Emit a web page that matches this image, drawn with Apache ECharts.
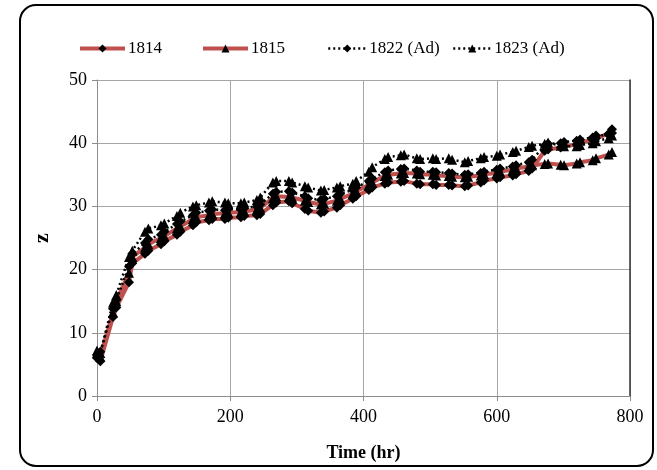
<!DOCTYPE html>
<html>
<head>
<meta charset="utf-8">
<script src="https://cdn.jsdelivr.net/npm/echarts@6/dist/echarts.min.js"></script>
<style>
html,body{margin:0;padding:0;background:#fff;}
#chart{width:657px;height:470px;}
</style>
</head>
<body>
<div id="chart"></div>
<script>
// Times of readings (hr): two readings per day
const times = [0,5,24,29,48,53,72,77,96,101,120,125,144,149,168,173,192,197,216,221,240,245,264,269,288,293,312,317,336,341,360,365,384,389,408,413,432,437,456,461,480,485,504,509,528,533,552,557,576,581,600,605,624,629,648,653,672,677,696,701,720,725,744,749,768,773];

const s1814 = [6.0,5.5, 12.5,14.0, 18.0,21.0, 22.5,23.0, 24.0,24.5, 25.5,26.0, 27.0,27.5, 27.8,28.0, 28.0,28.2, 28.3,28.5, 28.6,28.8, 30.2,30.6, 30.8,30.5, 29.6,29.3, 29.0,29.2, 29.8,30.2, 31.2,31.6, 32.6,33.0, 33.6,33.8, 33.9,34.0, 33.6,33.5, 33.5,33.4, 33.4,33.3, 33.2,33.3, 33.8,34.1, 34.4,34.6, 34.9,35.1, 35.6,36.0, 38.8,39.0, 39.3,39.5, 39.8,40.1, 40.5,40.8, 41.5,42.2];

const s1815 = [6.8,6.2, 13.2,15.0, 19.5,22.0, 23.5,24.0, 25.0,25.3, 26.5,26.8, 28.0,28.3, 28.6,28.8, 28.9,29.0, 29.1,29.2, 29.5,29.8, 31.3,31.6, 31.5,31.4, 30.9,30.7, 30.3,30.4, 30.9,31.2, 32.0,32.4, 33.4,33.8, 34.8,35.0, 35.2,35.3, 35.2,35.1, 35.0,34.9, 34.8,34.7, 34.6,34.7, 34.9,35.1, 35.3,35.5, 35.8,36.0, 36.3,36.5, 36.7,36.8, 36.6,36.5, 36.8,37.0, 37.3,37.6, 38.2,38.6];

const s1822 = [6.5,7.0, 13.8,15.2, 20.5,22.5, 24.2,24.8, 25.5,26.0, 27.2,27.6, 28.6,29.0, 29.3,29.5, 29.4,29.6, 29.5,29.7, 30.0,30.3, 32.0,32.3, 32.4,32.2, 31.6,31.3, 31.0,31.2, 31.6,32.0, 32.6,33.0, 34.0,34.4, 35.4,35.7, 35.9,36.0, 35.7,35.5, 35.5,35.4, 35.3,35.2, 35.0,35.1, 35.3,35.5, 35.8,36.0, 36.3,36.5, 37.0,37.4, 39.6,39.9, 40.0,40.2, 40.4,40.6, 40.9,41.2, 41.3,41.6];

const s1823 = [7.2,6.8, 14.8,16.0, 22.0,23.0, 26.0,26.5, 27.0,27.3, 28.5,29.0, 30.0,30.2, 30.6,30.8, 30.6,30.5, 30.5,30.6, 31.0,31.4, 33.8,34.0, 34.0,33.8, 33.2,33.0, 32.5,32.6, 33.0,33.2, 33.6,34.0, 35.5,36.2, 37.5,37.8, 38.1,38.2, 37.6,37.5, 37.6,37.5, 37.6,37.4, 37.0,37.2, 37.6,37.8, 38.0,38.2, 38.6,38.8, 39.4,39.6, 39.9,40.1, 39.6,39.5, 39.5,39.7, 40.0,40.3, 40.8,41.2];

const seriesNames = ['1814','1815','1822 (Ad)','1823 (Ad)'];
const xTicks = {min:0, max:800, interval:200};
const yTicks = {min:0, max:50, interval:10};

const toPairs = arr => times.map((t,i)=>[t, arr[i]]);
const FONT = 'Liberation Serif';
const RED = '#c0504d';

const chart = echarts.init(document.getElementById('chart'), null, {renderer:'canvas'});

function redSeries(name, data, symbol){
  return {name, type:'line', data:toPairs(data), symbol, symbolSize: 10,
    lineStyle:{color:RED, width:4}, itemStyle:{color:'#000'}, z:2, animation:false};
}
function dotSeries(name, data, symbol){
  return {name, type:'line', data:toPairs(data), symbol, symbolSize: 10,
    lineStyle:{color:'#000', width:2.5, type:[2,3]}, itemStyle:{color:'#000'}, z:3, animation:false};
}

const legendLefts = [73, 196, 322, 447];
const legends = seriesNames.map((n, i) => ({
  top: 35, left: legendLefts[i], itemWidth: i < 2 ? 45 : 38, itemHeight: 10, itemGap: 4,
  textStyle: {fontFamily: FONT, fontSize: 17, color: '#000', padding: [0, 0, 0, -2]},
  lineStyle: i < 2 ? {width: 4, color: RED} : {width: 2.5, color: '#000', type: [2, 3]},
  data: [n]
}));

chart.setOption({
  animation:false,
  backgroundColor:'#fff',
  graphic:[{type:'rect', shape:{x:20,y:5,width:633,height:461,r:16}, style:{fill:'none', stroke:'#000', lineWidth:2}, z:-1}],
  legend: legends,
  grid:{left:97, right:27, top:80, bottom:74, containLabel:false},
  xAxis:{
    type:'value', min:xTicks.min, max:xTicks.max, interval:xTicks.interval,
    name:'Time (hr)', nameLocation:'middle', nameGap:48,
    nameTextStyle:{fontFamily:FONT, fontSize:18, fontWeight:'bold', color:'#000'},
    axisLine:{show:true, lineStyle:{color:'#8c8c8c', width:1}},
    axisTick:{show:true, length:5, lineStyle:{color:'#8c8c8c'}},
    axisLabel:{fontFamily:FONT, fontSize:18, color:'#000', margin:12},
    splitLine:{show:true, lineStyle:{color:'#a6a6a6', width:1}}
  },
  yAxis:[{
    type:'value', min:yTicks.min, max:yTicks.max, interval:yTicks.interval,
    name:'z', nameLocation:'middle', nameGap:44, nameRotate:90,
    nameTextStyle:{fontFamily:FONT, fontSize:22, fontWeight:'bold', color:'#000'},
    axisLine:{show:true, lineStyle:{color:'#8c8c8c', width:1}},
    axisTick:{show:true, length:5, lineStyle:{color:'#8c8c8c'}},
    axisLabel:{fontFamily:FONT, fontSize:18, color:'#000', margin:10},
    splitLine:{show:true, lineStyle:{color:'#a6a6a6', width:1}}
  },{
    type:'value', position:'right', min:yTicks.min, max:yTicks.max, interval:yTicks.interval,
    axisLine:{show:true, lineStyle:{color:'#333', width:1.5}},
    axisTick:{show:false}, axisLabel:{show:false}, splitLine:{show:false}
  }],
  series:[
    redSeries(seriesNames[0], s1814, 'diamond'),
    redSeries(seriesNames[1], s1815, 'triangle'),
    dotSeries(seriesNames[2], s1822, 'diamond'),
    dotSeries(seriesNames[3], s1823, 'triangle')
  ]
});
</script>
</body>
</html>
